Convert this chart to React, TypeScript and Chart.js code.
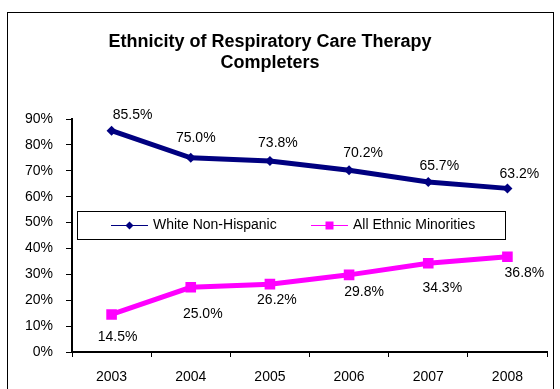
import React, { useEffect, useRef } from "react";
import { Chart, registerables } from "chart.js";

Chart.register(...registerables);

const years = ["2003", "2004", "2005", "2006", "2007", "2008"];
const whiteNonHispanic = [85.5, 75.0, 73.8, 70.2, 65.7, 63.2];
const ethnicMinorities = [14.5, 25.0, 26.2, 29.8, 34.3, 36.8];
const seriesNames = ["White Non-Hispanic", "All Ethnic Minorities"];
const titleLines = ["Ethnicity of Respiratory Care Therapy", "Completers"];

// label placement offsets (px) relative to each point, as in the original
const whiteLabelOffsets = [[21, -16], [5, -20], [8, -18], [14, -17], [11, -16], [12, -14]];
const minorityLabelOffsets = [[6, 23], [12, 27], [7, 16], [15, 17], [14, 25], [17, 16]];

const FONT = "'Liberation Sans', Arial, sans-serif";

export default function App() {
  const ref = useRef<HTMLCanvasElement | null>(null);

  useEffect(() => {
    document.body.style.margin = "0";
    const canvas = ref.current;
    if (!canvas) return;

    const decor = {
      id: "decor",
      beforeDraw(chart: any) {
        const ctx = chart.ctx;
        ctx.save();
        ctx.fillStyle = "#fff";
        ctx.fillRect(0, 0, chart.width, chart.height);
        ctx.strokeStyle = "#000";
        ctx.lineWidth = 1;
        ctx.strokeRect(7.5, 12.5, 546, 400);
        ctx.fillStyle = "#000";
        ctx.font = `bold 18px ${FONT}`;
        ctx.textAlign = "center";
        ctx.textBaseline = "middle";
        ctx.fillText(titleLines[0], 270, 42);
        ctx.fillText(titleLines[1], 270, 63);
        ctx.restore();
      },
      afterDatasetsDraw(chart: any) {
        const ctx = chart.ctx;
        ctx.save();
        ctx.fillStyle = "#000";
        ctx.font = `14px ${FONT}`;
        ctx.textAlign = "center";
        ctx.textBaseline = "middle";
        const offs = [whiteLabelOffsets, minorityLabelOffsets];
        chart.data.datasets.forEach((ds: any, di: number) => {
          const meta = chart.getDatasetMeta(di);
          meta.data.forEach((pt: any, i: number) => {
            const o = offs[di][i];
            ctx.fillText(ds.data[i].toFixed(1) + "%", pt.x + o[0], pt.y + o[1]);
          });
        });

        // legend box
        const lx = 77.5, ly = 211.5, lw = 428, lh = 28;
        ctx.fillStyle = "#fff";
        ctx.fillRect(lx, ly, lw, lh);
        ctx.strokeStyle = "#000";
        ctx.lineWidth = 1;
        ctx.strokeRect(lx, ly, lw, lh);
        const cy = ly + lh / 2;
        const entries = [
          { x1: 111, x2: 148, tx: 153, color: "#000080", shape: "diamond" },
          { x1: 311, x2: 348, tx: 353, color: "#FF00FF", shape: "square" },
        ];
        entries.forEach((e, i) => {
          ctx.strokeStyle = e.color;
          ctx.lineWidth = 1;
          ctx.beginPath();
          ctx.moveTo(e.x1, cy);
          ctx.lineTo(e.x2, cy);
          ctx.stroke();
          const mx = (e.x1 + e.x2) / 2;
          ctx.fillStyle = e.color;
          ctx.beginPath();
          if (e.shape === "diamond") {
            ctx.moveTo(mx, cy - 4);
            ctx.lineTo(mx + 4, cy);
            ctx.lineTo(mx, cy + 4);
            ctx.lineTo(mx - 4, cy);
            ctx.closePath();
          } else {
            ctx.rect(mx - 4, cy - 4, 8, 8);
          }
          ctx.fill();
          ctx.fillStyle = "#000";
          ctx.textAlign = "left";
          ctx.fillText(chart.data.datasets[i].label, e.tx, cy);
        });
        ctx.restore();
      },
    };

    const chart = new Chart(canvas, {
      type: "line",
      data: {
        labels: years,
        datasets: [
          {
            label: seriesNames[0],
            data: whiteNonHispanic,
            borderColor: "#000080",
            backgroundColor: "#000080",
            borderWidth: 5,
            pointStyle: "rectRot",
            pointRadius: 5,
            pointBorderWidth: 0,
            tension: 0,
          },
          {
            label: seriesNames[1],
            data: ethnicMinorities,
            borderColor: "#FF00FF",
            backgroundColor: "#FF00FF",
            borderWidth: 5,
            pointStyle: "rect",
            pointRadius: 7.5,
            pointBorderWidth: 0,
            tension: 0,
          },
        ],
      },
      options: {
        animation: false,
        responsive: false,
        maintainAspectRatio: false,
        layout: { padding: { top: 119, left: 0, right: 13, bottom: 0 } },
        plugins: {
          legend: { display: false },
          title: { display: false },
          tooltip: { enabled: false },
        },
        scales: {
          x: {
            offset: true,
            grid: {
              display: true,
              offset: true,
              drawOnChartArea: false,
              drawTicks: true,
              tickLength: 5,
              color: "#000",
              lineWidth: 1,
            },
            border: { display: true, color: "#000", width: 2 },
            ticks: {
              color: "#000",
              font: { family: FONT, size: 14 },
              padding: 12,
              maxRotation: 0,
            },
            afterFit(scale: any) {
              scale.height = 37;
            },
          },
          y: {
            min: 0,
            max: 90,
            grid: {
              display: true,
              drawOnChartArea: false,
              drawTicks: true,
              tickLength: 6,
              color: "#000",
              lineWidth: 1,
            },
            border: { display: true, color: "#000", width: 2 },
            ticks: {
              stepSize: 10,
              color: "#000",
              font: { family: FONT, size: 14 },
              padding: 13,
              callback: (v: any) => v + "%",
            },
            afterFit(scale: any) {
              scale.width = 72;
            },
          },
        },
      },
      plugins: [decor],
    });

    return () => chart.destroy();
  }, []);

  return (
    <div style={{ position: "absolute", left: 0, top: 0, width: 560, height: 389 }}>
      <canvas ref={ref} width={560} height={389} style={{ display: "block" }} />
    </div>
  );
}
